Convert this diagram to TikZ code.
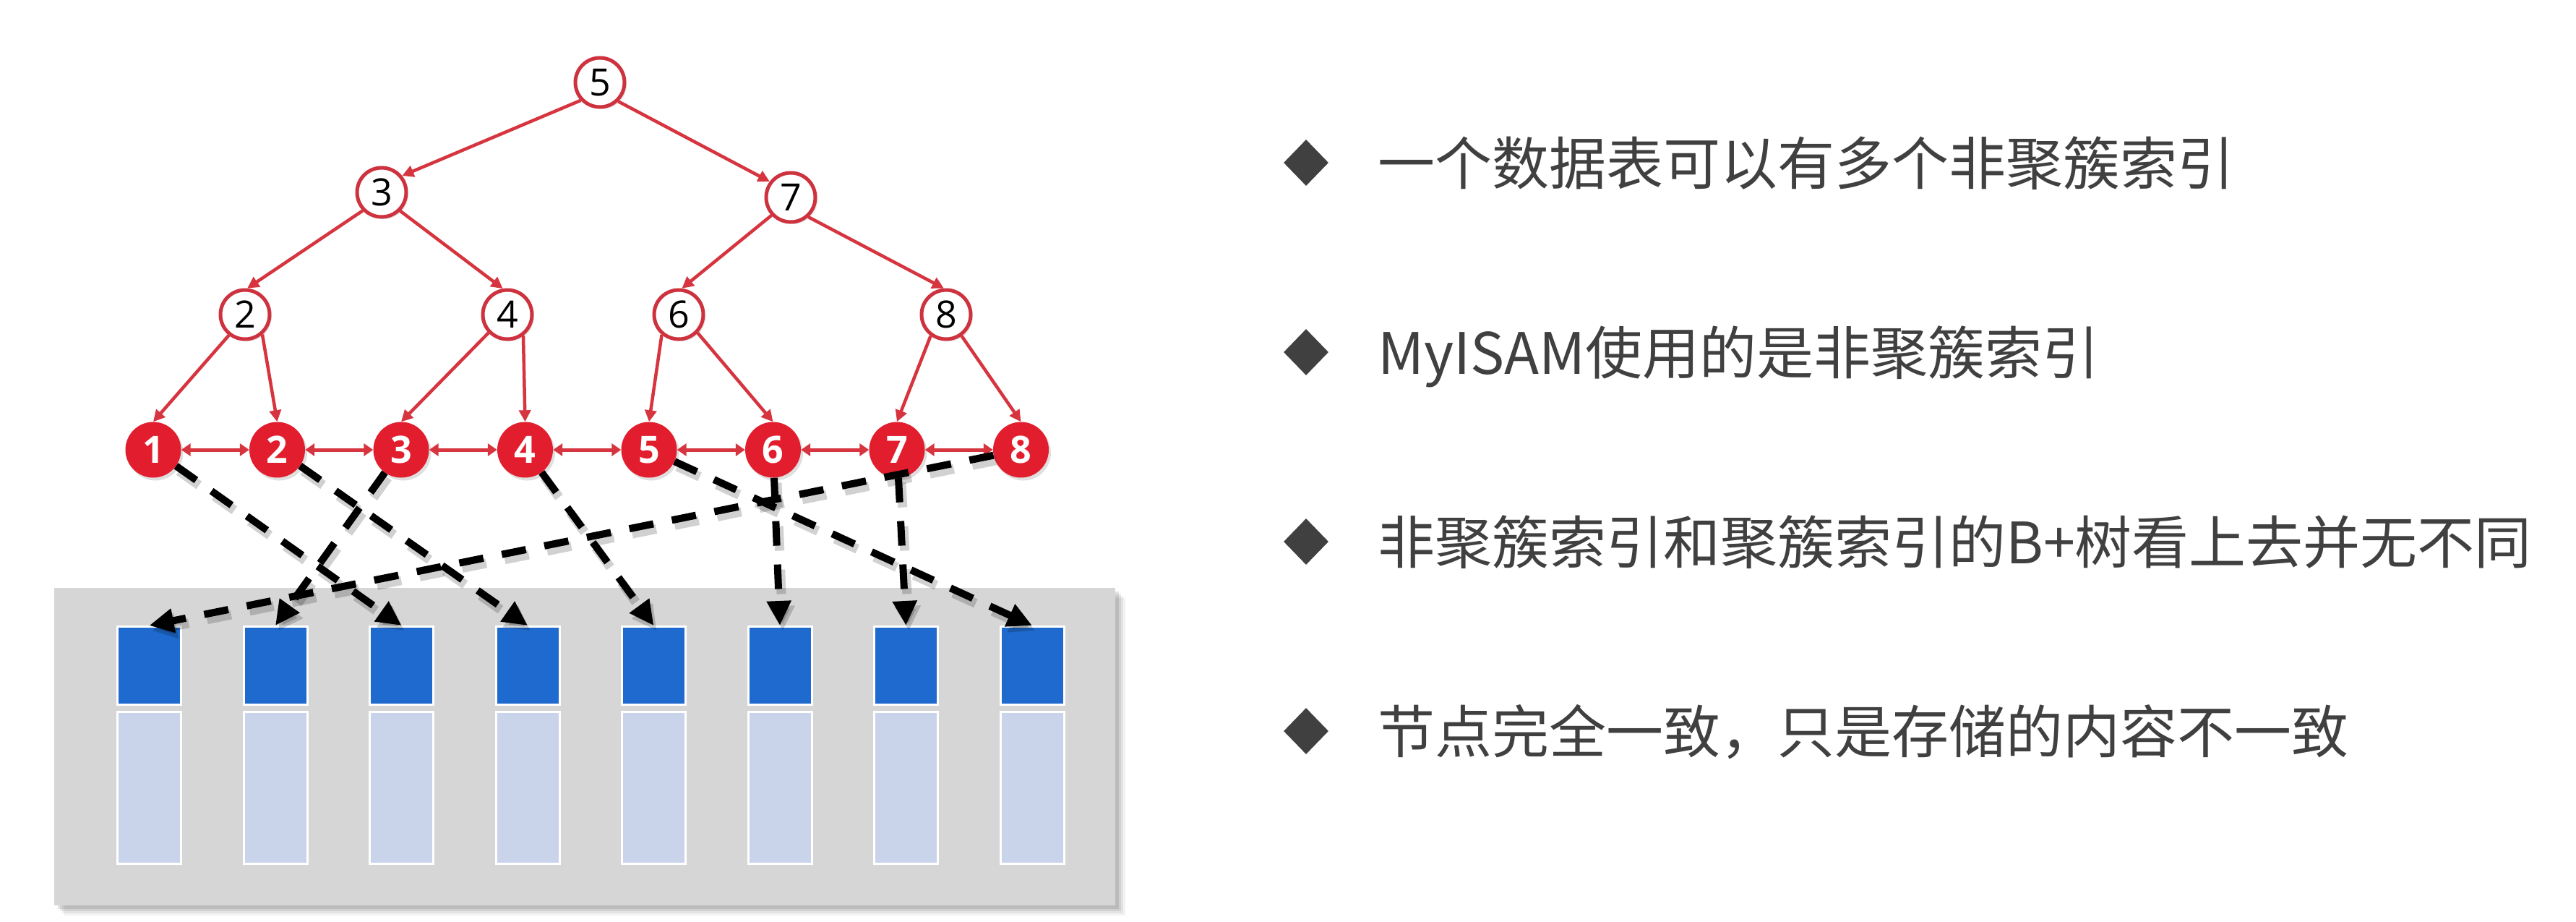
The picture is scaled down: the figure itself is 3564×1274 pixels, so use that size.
\documentclass[tikz,border=0pt]{standalone}
\usepackage{fontspec}
\setmainfont{Open Sans}
\newfontfamily\cjk{Noto Sans CJK SC}
\usetikzlibrary{arrows.meta,shadows,shapes.geometric}
\definecolor{leafred}{RGB}{226,30,46}
\definecolor{edgered}{RGB}{214,52,62}
\definecolor{ringred}{RGB}{205,50,62}
\definecolor{boxgray}{RGB}{214,214,214}
\definecolor{dkblue}{RGB}{30,106,206}
\definecolor{ltblue}{RGB}{201,211,234}
\definecolor{txtgray}{RGB}{64,64,64}
\begin{document}
\begin{tikzpicture}[x=1pt,y=-1pt,
  innernode/.style={circle, draw=ringred, line width=5pt, fill=white, minimum size=68pt, inner sep=0pt,
    font=\fontsize{52}{52}\selectfont, drop shadow={opacity=0.2, shadow xshift=3pt, shadow yshift=-3pt}},
  leafnode/.style={circle, fill=leafred, minimum size=77pt, inner sep=0pt, text=white,
    font=\fontsize{52}{52}\selectfont\bfseries, drop shadow={opacity=0.25, shadow xshift=3pt, shadow yshift=-4pt}},
  tedge/.style={draw=edgered, line width=4.5pt, -{Triangle[length=16pt,width=16pt]}},
  ledge/.style={draw=edgered, line width=5pt, {Triangle[length=13pt,width=17pt]}-{Triangle[length=13pt,width=17pt]}},
  ptr/.style={draw=black, line width=10pt, dash pattern=on 34pt off 26pt, -{Triangle[length=34pt,width=32pt]}},
  ptrshadow/.style={draw=black, opacity=0.18, line width=13pt, dash pattern=on 34pt off 26pt,
    -{Triangle[length=34pt,width=34pt]}, transform canvas={shift={(4pt,-7pt)}}},
  dkblk/.style={rectangle, fill=dkblue, draw=white, line width=3pt, minimum width=88pt, minimum height=108pt, inner sep=0pt},
  ltblk/.style={rectangle, fill=ltblue, draw=white, line width=3pt, minimum width=88pt, minimum height=210pt, inner sep=0pt},
  storebox/.style={rectangle, fill=boxgray, minimum width=1468pt, minimum height=439pt, inner sep=0pt},
  bulletmark/.style={diamond, fill=txtgray, minimum width=62pt, minimum height=64pt, inner sep=0pt},
  itemtext/.style={anchor=base west, inner sep=0pt, text=txtgray, font=\cjk\fontsize{79}{90}\selectfont}
]
\fill[white] (0,0) rectangle (3564,1274);
\useasboundingbox (0,0) rectangle (3564,1274);

% storage area with soft shadow
\foreach \s/\o in {14/0.05,11/0.06,8/0.08,5/0.1}{
  \fill[black,opacity=\o] (75+\s,813+\s) rectangle (1543+\s,1252+\s);
}
\node[storebox] (store) at (809,1032.5) {};

% data blocks
\foreach \i in {1,...,8}{
  \pgfmathsetmacro\bx{206.5+174.5*(\i-1)}
  \node[dkblk] (b\i) at (\bx,920.5) {};
  \node[ltblk] (c\i) at (\bx,1089.5) {};
}

% tree
\node[innernode] (r) at (830,114) {5};
\node[innernode] (n3) at (528,266) {3};
\node[innernode] (n7) at (1094,273) {7};
\node[innernode] (n2) at (339,435) {2};
\node[innernode] (n4) at (702,435) {4};
\node[innernode] (n6) at (939,435) {6};
\node[innernode] (n8) at (1309,435) {8};
\foreach \i in {1,...,8}{
  \pgfmathsetmacro\lx{212+171.5*(\i-1)}
  \node[leafnode] (l\i) at (\lx,622) {\i};
}

\draw[tedge] (r.223) -- (n3.39);
\draw[tedge] (r.-46) -- (n7.143);
\draw[tedge] (n3.224) -- (n2.85);
\draw[tedge] (n3.-45) -- (n4.100);
\draw[tedge] (n7.223) -- (n6.83);
\draw[tedge] (n7.-48) -- (n8.95);
\draw[tedge] (n2.232) -- (l1.north);
\draw[tedge] (n2.-49) -- (l2.north);
\draw[tedge] (n4.224) -- (l3.north);
\draw[tedge] (n4.-53) -- (l4.north);
\draw[tedge] (n6.230) -- (l5.north);
\draw[tedge] (n6.-44) -- (l6.north);
\draw[tedge] (n8.234) -- (l7.north);
\draw[tedge] (n8.-54) -- (l8.north);

\foreach \i [evaluate=\i as \j using {int(\i+1)}] in {1,...,7}{
  \draw[ledge] (l\i) -- (l\j);
}

% pointers from leaves to data rows
\foreach \a/\b in {1/3,2/4,3/2,4/5,5/8,6/6,7/7,8/1}{
  \draw[ptrshadow] (l\a) -- (b\b.north);
}
\foreach \a/\b in {1/3,2/4,3/2,4/5,5/8,6/6,7/7,8/1}{
  \draw[ptr] (l\a) -- (b\b.north);
}

% bullet list
\node[bulletmark] (d1) at (1807,225) {};
\node[bulletmark] (d2) at (1807,487) {};
\node[bulletmark] (d3) at (1807,749) {};
\node[bulletmark] (d4) at (1807,1011) {};
\node[itemtext] (t1) at (1906,255) {一个数据表可以有多个非聚簇索引};
\node[itemtext] (t2) at (1906,517) {MyISAM使用的是非聚簇索引};
\node[itemtext] (t3) at (1906,779) {非聚簇索引和聚簇索引的B+树看上去并无不同};
\node[itemtext] (t4) at (1906,1041) {节点完全一致，只是存储的内容不一致};
\end{tikzpicture}
\end{document}
